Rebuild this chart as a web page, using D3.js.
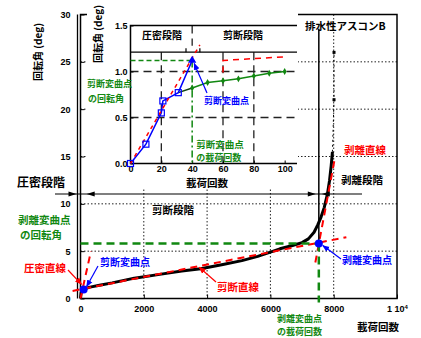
<!DOCTYPE html>
<html>
<head>
<meta charset="utf-8">
<script src="https://cdn.jsdelivr.net/npm/d3@7"></script>
<style>
  body { margin: 0; background: #fff; }
  svg { font-family: "Noto Sans CJK JP", "Noto Sans", sans-serif; font-weight: bold; }
  .tick text { font-family: "Liberation Sans", Arial, sans-serif; font-weight: bold; font-size: 9px; fill: #000; }
</style>
</head>
<body>
<div id="chart"></div>
<script>
// main chart: rotation angle vs number of loadings
const mainTicksX = [0, 2000, 4000, 6000, 8000, 10000];
const mainTicksY = [0, 5, 10, 15, 20, 25, 30];
const mainCycles   = [0, 20, 50, 100, 300, 600, 1000, 1700, 2500, 3200, 3800, 4500, 5100, 5600, 6000, 6300, 6700, 7000, 7200, 7380, 7500, 7600, 7700, 7800, 7870, 7920, 7960];
const mainRotation = [0, 0.6, 0.85, 1.0, 1.2, 1.4, 1.65, 2.15, 2.55, 2.9, 3.15, 3.6, 4.0, 4.45, 4.9, 5.25, 5.6, 5.9, 6.3, 7.0, 7.8, 8.6, 9.6, 11.0, 12.5, 14.0, 15.5];
const tailCycles   = [8010, 8010];
const tailRotation = [21, 26];

// fitted straight lines (two end points each)
const consolCycles = [0, 330];
const consolRot    = [0, 5.0];
const shearCycles  = [-250, 8400];
const shearRot     = [0.8, 6.47];
const peelCycles   = [7420, 8030];
const peelRot      = [3.8, 14.7];

// inflection points [cycles, rotation]
const shearPoint = [100, 0.95];
const peelPoint  = [7530, 5.8];

// inset: first 100 loadings
const insetTicksX = [0, 20, 40, 60, 80, 100];
const insetTicksY = [0, 0.5, 1, 1.5];
const insetBlueCycles = [0, 10, 20, 21, 31, 40];
const insetBlueRot    = [0, 0.21, 0.55, 0.68, 0.77, 1.12];
const insetGreenCycles = [40, 50, 60, 70, 80, 90, 100];
const insetGreenRot    = [0.82, 0.88, 0.90, 0.92, 0.95, 0.98, 1.0];
const insetConsolCycles = [0, 45];
const insetConsolRot    = [0, 1.29];
const insetRedCycles = [60, 60, 100];
const insetRedRot    = [0.99, 1.12, 1.16];
const insetShearPoint = [40, 1.12];

function makeChart() {
  const w = 421, h = 338;
  const svg = d3.select('#chart').append('svg').attr('width', w).attr('height', h);

  const defs = svg.append('defs');
  [['red', '#ff0000'], ['blue', '#0000ff'], ['green', '#118811'], ['black', '#000']].forEach(([id, c]) => {
    defs.append('marker').attr('id', 'arr-' + id)
      .attr('viewBox', '0 0 10 10').attr('refX', 9).attr('refY', 5)
      .attr('markerWidth', 6).attr('markerHeight', 6).attr('orient', 'auto')
      .append('path').attr('d', 'M0,1 L10,5 L0,9 z').attr('fill', c);
  });

  const x = d3.scaleLinear().domain([0, 10000]).range([80.5, 397]);
  const y = d3.scaleLinear().domain([0, 30]).range([298.5, 14.5]);

  // dotted grid
  const grid = svg.append('g').attr('stroke', '#222').attr('stroke-width', 1).attr('stroke-dasharray', '1.5,2');
  mainTicksX.slice(1, -1).forEach(v => grid.append('line').attr('x1', x(v)).attr('x2', x(v)).attr('y1', y(30)).attr('y2', y(0)));
  mainTicksY.slice(1, -1).forEach(v => grid.append('line').attr('x1', x(0)).attr('x2', x(10000)).attr('y1', y(v)).attr('y2', y(v)));

  // frame
  svg.append('rect').attr('x', x(0)).attr('y', y(30)).attr('width', x(10000) - x(0)).attr('height', y(0) - y(30))
    .attr('fill', 'none').attr('stroke', '#000').attr('stroke-width', 1.5);
  svg.append('line').attr('x1', x(0) - 3).attr('x2', x(0) - 3).attr('y1', y(30)).attr('y2', y(0))
    .attr('stroke', '#000').attr('stroke-width', 1.3);

  const yAxis = d3.axisLeft(y).tickValues(mainTicksY).tickSize(-4).tickPadding(10);
  svg.append('g').attr('transform', `translate(${x(0)},0)`).call(yAxis).call(g => g.select('.domain').remove());

  const xAxis = d3.axisBottom(x).tickValues(mainTicksX).tickSize(-4).tickPadding(7)
    .tickFormat(d => d === 10000 ? '' : d);
  const xg = svg.append('g').attr('transform', `translate(0,${y(0)})`).call(xAxis);
  xg.select('.domain').remove();
  const last = xg.selectAll('.tick text').filter(d => d === 10000);
  last.append('tspan').text('1 10');
  last.append('tspan').attr('dy', '-0.5em').attr('font-size', '6px').text('4');

  // main curve
  const line = d3.line().x(d => x(d[0])).y(d => y(d[1]));
  const mainData = d3.zip(mainCycles, mainRotation);
  svg.append('path').datum(d3.zip([mainCycles.at(-1)].concat(tailCycles), [mainRotation.at(-1)].concat(tailRotation)))
    .attr('d', line).attr('fill', 'none').attr('stroke', '#000').attr('stroke-width', 1).attr('stroke-dasharray', '2,3');
  svg.selectAll('rect.tail').data(d3.zip(tailCycles, tailRotation)).enter().append('rect')
    .attr('x', d => x(d[0]) - 1.5).attr('y', d => y(d[1]) - 1.5).attr('width', 3).attr('height', 3).attr('fill', '#000');
  svg.append('path').datum(mainData).attr('d', line).attr('fill', 'none')
    .attr('stroke', '#000').attr('stroke-width', 3).attr('stroke-linejoin', 'round');

  // fitted lines
  [[consolCycles, consolRot], [shearCycles, shearRot], [peelCycles, peelRot]].forEach(([cx, cy]) => {
    svg.append('path').datum(d3.zip(cx, cy)).attr('d', line).attr('fill', 'none')
      .attr('stroke', '#ff0000').attr('stroke-width', 2).attr('stroke-dasharray', '7,5');
  });

  // peel inflection guides
  svg.append('line').attr('x1', x(0)).attr('x2', x(peelPoint[0])).attr('y1', y(peelPoint[1])).attr('y2', y(peelPoint[1]))
    .attr('stroke', '#118811').attr('stroke-width', 2.5).attr('stroke-dasharray', '8,5');
  svg.append('line').attr('x1', x(peelPoint[0])).attr('x2', x(peelPoint[0])).attr('y1', y(peelPoint[1])).attr('y2', y(0) + 4)
    .attr('stroke', '#118811').attr('stroke-width', 2.5).attr('stroke-dasharray', '8,5');
  svg.append('line').attr('x1', x(peelPoint[0])).attr('x2', x(peelPoint[0])).attr('y1', y(28.5)).attr('y2', y(peelPoint[1]))
    .attr('stroke', '#000').attr('stroke-width', 1.5);

  // stage arrows
  const ay = 194;
  svg.append('line').attr('x1', 55).attr('x2', 362).attr('y1', ay).attr('y2', ay).attr('stroke', '#000').attr('stroke-width', 1.2);
  const heads = [[x(0) - 4, 1], [x(shearPoint[0]) + 3, -1], [x(peelPoint[0]) - 3, 1], [x(peelPoint[0]) + 3, -1]];
  heads.forEach(([hx, dir]) => {
    svg.append('path').attr('d', `M${hx},${ay} l${-8 * dir},-2.5 l0,5 z`).attr('fill', '#000');
  });

  // inflection dots
  svg.selectAll('circle.inf').data([shearPoint, peelPoint]).enter().append('circle')
    .attr('cx', d => x(d[0])).attr('cy', d => y(d[1])).attr('r', 4).attr('fill', '#0000ff');

  // ---- inset ----
  const xi = d3.scaleLinear().domain([0, 108]).range([130.5, 297]);
  const yi = d3.scaleLinear().domain([0, 1.5]).range([163.5, 25.5]);
  const ins = svg.append('g');
  ins.append('rect').attr('x', 87).attr('y', 0).attr('width', 211).attr('height', 188).attr('fill', '#fff');

  const ig = ins.append('g').attr('stroke', '#222').attr('stroke-width', 1.3).attr('stroke-dasharray', '8,5');
  [20, 60, 80].forEach(v => ig.append('line').attr('x1', xi(v)).attr('x2', xi(v)).attr('y1', yi(1.21)).attr('y2', yi(0)));
  [0.5, 1].forEach(v => ig.append('line').attr('x1', xi(0)).attr('x2', xi(108)).attr('y1', yi(v)).attr('y2', yi(v)));
  ig.append('line').attr('x1', xi(40)).attr('x2', xi(40)).attr('y1', yi(1.5)).attr('y2', yi(1.28));

  ins.append('path').attr('d', `M${xi(108)},${yi(1.5)} H${xi(0)} V${yi(0)} H${xi(108)}`)
    .attr('fill', 'none').attr('stroke', '#000').attr('stroke-width', 1.5);
  ins.append('line').attr('x1', xi(0)).attr('x2', xi(108)).attr('y1', yi(1.21)).attr('y2', yi(1.21))
    .attr('stroke', '#000').attr('stroke-width', 1.3);
  ins.append('path').attr('d', `M${xi(36)},${yi(1.21)} v-4 M${xi(45)},${yi(1.21)} v-4`).attr('stroke', '#000').attr('stroke-width', 1.2);

  ins.append('g').attr('transform', `translate(${xi(0)},0)`)
    .call(d3.axisLeft(yi).tickValues(insetTicksY).tickSize(-3).tickPadding(3))
    .call(g => g.select('.domain').remove());
  ins.append('g').attr('transform', `translate(0,${yi(0)})`)
    .call(d3.axisBottom(xi).tickValues(insetTicksX).tickSize(-3).tickPadding(2))
    .call(g => g.select('.domain').remove());

  const iline = d3.line().x(d => xi(d[0])).y(d => yi(d[1]));
  // shear inflection guides
  ins.append('line').attr('x1', xi(0)).attr('x2', xi(insetShearPoint[0])).attr('y1', yi(insetShearPoint[1])).attr('y2', yi(insetShearPoint[1]))
    .attr('stroke', '#118811').attr('stroke-width', 1.5).attr('stroke-dasharray', '5,3');
  ins.append('line').attr('x1', xi(insetShearPoint[0])).attr('x2', xi(insetShearPoint[0])).attr('y1', yi(insetShearPoint[1])).attr('y2', yi(0))
    .attr('stroke', '#118811').attr('stroke-width', 1.5).attr('stroke-dasharray', '7,3,2,3');

  ins.append('path').datum(d3.zip(insetRedCycles, insetRedRot)).attr('d', iline).attr('fill', 'none')
    .attr('stroke', '#ff0000').attr('stroke-width', 1.5).attr('stroke-dasharray', '6,5');

  // green series
  ins.append('path').datum([[insetBlueCycles.at(-2), insetBlueRot.at(-2)], [insetGreenCycles[0], insetGreenRot[0]]])
    .attr('d', iline).attr('stroke', '#114411').attr('stroke-width', 1.5).attr('fill', 'none');
  ins.append('path').datum(d3.zip(insetGreenCycles, insetGreenRot)).attr('d', iline).attr('fill', 'none')
    .attr('stroke', '#118811').attr('stroke-width', 1.5);
  ins.selectAll('path.dia').data(d3.zip(insetGreenCycles, insetGreenRot)).enter().append('path')
    .attr('d', d3.symbol(d3.symbolDiamond, 14)).attr('transform', d => `translate(${xi(d[0])},${yi(d[1])})`)
    .attr('fill', '#118811');

  // blue series
  ins.append('path').datum(d3.zip(insetBlueCycles, insetBlueRot)).attr('d', iline).attr('fill', 'none')
    .attr('stroke', '#0000ff').attr('stroke-width', 1.5);
  ins.append('path').datum(d3.zip(insetConsolCycles, insetConsolRot)).attr('d', iline).attr('fill', 'none')
    .attr('stroke', '#ff0000').attr('stroke-width', 1.5).attr('stroke-dasharray', '4,4');
  ins.selectAll('rect.sq').data(d3.zip(insetBlueCycles, insetBlueRot).slice(0, -1)).enter().append('rect')
    .attr('x', d => xi(d[0]) - 3).attr('y', d => yi(d[1]) - 3).attr('width', 6).attr('height', 6)
    .attr('fill', 'none').attr('stroke', '#0000ff').attr('stroke-width', 1.2);
  ins.append('path').attr('d', d3.symbol(d3.symbolTriangle, 30))
    .attr('transform', `translate(${xi(insetBlueCycles.at(-1))},${yi(insetBlueRot.at(-1))})`).attr('fill', '#0000ff');

  // ---- labels ----
  const txt = (tx, ty, s, color, size, anchor) => svg.append('text').attr('x', tx).attr('y', ty)
    .attr('fill', color || '#000').attr('font-size', (size || 10.5) + 'px').attr('text-anchor', anchor || 'start').text(s);
  const arrow = (x1, y1, x2, y2, id, c) => svg.append('line').attr('x1', x1).attr('y1', y1).attr('x2', x2).attr('y2', y2)
    .attr('stroke', c).attr('stroke-width', 1.2).attr('marker-end', `url(#arr-${id})`);

  svg.append('text').attr('transform', 'translate(42,52) rotate(-90)').attr('text-anchor', 'middle')
    .attr('font-size', '10px').text('回転角 (deg)');
  svg.append('text').attr('transform', 'translate(102,34) rotate(-90)').attr('text-anchor', 'middle')
    .attr('font-size', '10px').text('回転角 (deg)');

  txt(162, 39, '圧密段階', '#000', 10, 'middle');
  txt(243, 39, '剪断段階', '#000', 10, 'middle');
  txt(87, 87, '剪断変曲点', '#118811', 9);
  txt(88, 102, 'の回転角', '#118811', 9);
  txt(xi(40) + 4, 147.5, '剪断変曲点', '#118811', 9.5);
  txt(xi(40) + 4, 161, 'の載荷回数', '#118811', 9);
  txt(204, 104, '剪断変曲点', '#0000ff', 9);
  arrow(207, 93, xi(insetShearPoint[0]) + 2, yi(insetShearPoint[1]) + 3, 'blue', '#0000ff');
  txt(207, 187, '載荷回数', '#000', 10.5, 'middle');

  txt(305, 30, '排水性アスコンB', '#000', 10.5);
  txt(17, 187, '圧密段階', '#000', 12);
  txt(173, 214, '剪断段階', '#000', 10.5, 'middle');
  txt(362, 184, '剥離段階', '#000', 10.5, 'middle');
  txt(365, 154, '剥離直線', '#ff0000', 10.5, 'middle');
  txt(238, 291, '剪断直線', '#ff0000', 10.5, 'middle');
  arrow(216, 282, x(3750), y(3.3), 'red', '#ff0000');
  txt(45, 272, '圧密直線', '#ff0000', 10.5, 'middle');
  arrow(68, 270, x(0) + 1, y(1.5), 'red', '#ff0000');
  txt(100, 266, '剪断変曲点', '#0000ff', 10);
  arrow(98, 266, x(shearPoint[0]) + 3, y(shearPoint[1]) - 3, 'blue', '#0000ff');
  txt(342, 264, '剥離変曲点', '#0000ff', 10);
  arrow(341, 259, x(peelPoint[0]) + 4, y(peelPoint[1]) + 2, 'blue', '#0000ff');
  txt(18, 224, '剥離変曲点', '#118811', 10.5);
  txt(20, 239, 'の回転角', '#118811', 10.5);
  txt(277, 322, '剥離変曲点', '#118811', 9);
  txt(277, 335.2, 'の載荷回数', '#118811', 9);
  txt(378, 331, '載荷回数', '#000', 10.5, 'middle');
}

makeChart();
</script>
</body>
</html>
